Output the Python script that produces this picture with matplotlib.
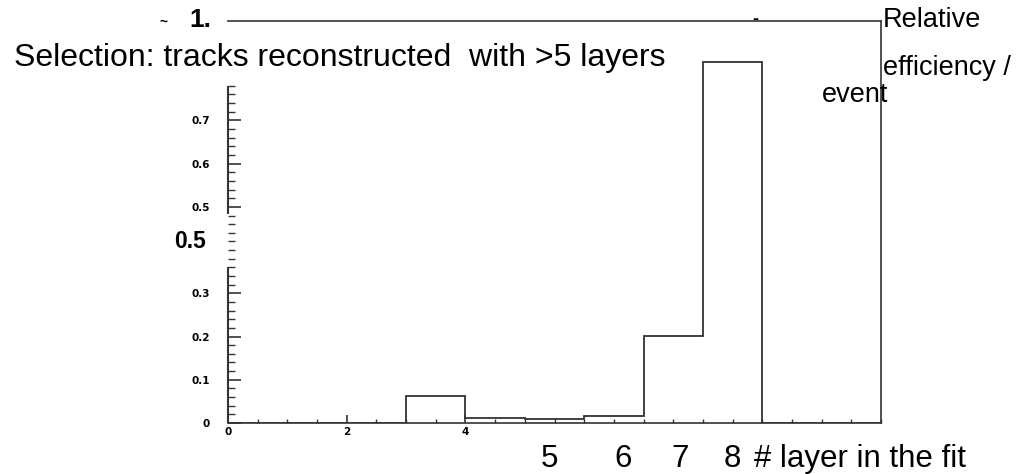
import numpy as np
import matplotlib.pyplot as plt
from matplotlib.ticker import FixedLocator, MultipleLocator

# --- Data ---
BIN_EDGES = [0, 1, 2, 3, 4, 5, 6, 7, 8, 9, 10, 11]
EFFICIENCY = [0, 0, 0, 0.063, 0.012, 0.010, 0.017, 0.202, 0.836, 0, 0]
Y_TICKS = [0, 0.1, 0.2, 0.3, 0.5, 0.6, 0.7]
Y_TICK_LABELS = ['0', '0.1', '0.2', '0.3', '0.5', '0.6', '0.7']
X_TICKS = [0, 2, 4]
X_TICK_LABELS = ['0', '2', '4']
LAYER_LABELS = ['5', '6', '7', '8']

LINE_COLOR = '#333333'
FONT = ['Liberation Sans', 'DejaVu Sans']
TICK_FONT = dict(family='DejaVu Sans', size=7.5, weight='bold')

plt.rcParams['font.family'] = FONT

W, H = 1018, 474
fig = plt.figure(figsize=(W / 100, H / 100), dpi=100)
ax = fig.add_axes([228 / W, 1 - 423 / H, (881 - 228) / W, (423 - 21) / H])


def px(x, y):
    """pixel position -> figure fraction"""
    return x / W, 1 - y / H


# Histogram outline
ax.stairs(EFFICIENCY, BIN_EDGES, color=LINE_COLOR, linewidth=1.3)

ax.set_xlim(0, 11)
ax.set_ylim(0, 0.93)

# Frame: left axis line is broken where the labels overlap it
ax.spines['left'].set_visible(False)
for s in ['top', 'right', 'bottom']:
    ax.spines[s].set_color(LINE_COLOR)
    ax.spines[s].set_linewidth(1.2)
LEFT_SEGMENTS = [(0.0, 0.362), (0.484, 0.78)]
for y0, y1 in LEFT_SEGMENTS:
    ax.plot([0, 0], [y0, y1], color=LINE_COLOR, linewidth=1.5, clip_on=False,
            solid_capstyle='butt')

# Ticks pointing into the frame
ax.xaxis.set_major_locator(FixedLocator(X_TICKS))
ax.set_xticklabels(X_TICK_LABELS, fontdict=TICK_FONT)
ax.xaxis.set_minor_locator(MultipleLocator(0.5))
ax.yaxis.set_major_locator(FixedLocator(Y_TICKS))
ax.set_yticklabels(Y_TICK_LABELS, fontdict=TICK_FONT)
ax.yaxis.set_minor_locator(FixedLocator(np.arange(0, 0.79, 0.02)))
ax.tick_params(axis='both', which='both', direction='in', color=LINE_COLOR)
ax.tick_params(axis='y', which='major', length=9, width=1.2, pad=13)
ax.tick_params(axis='y', which='minor', length=5, width=1.0)
ax.tick_params(axis='x', which='major', length=5.5, width=1.2, pad=3)
ax.tick_params(axis='x', which='minor', length=3, width=1.0)
ax.tick_params(top=False, right=False)

# Overlaid labels
fig.text(*px(14, 66), 'Selection: tracks reconstructed  with >5 layers',
         fontsize=23, ha='left', va='baseline')
fig.text(*px(189, 27), '1.', fontsize=19, fontweight='bold', ha='left', va='baseline')
fig.text(*px(163, 22), '~', fontsize=10, fontweight='bold', ha='center', va='center')
fig.text(*px(755, 20), '-', fontsize=13, fontweight='bold', ha='center', va='center')
fig.text(*px(174, 248), '0.5', fontsize=16.5, fontweight='bold', ha='left', va='baseline')

fig.text(*px(883, 27), 'Relative', fontsize=19.5, ha='left', va='baseline')
fig.text(*px(883, 75), 'efficiency /', fontsize=19.5, ha='left', va='baseline')
fig.text(*px(822, 102), 'event', fontsize=19.5, ha='left', va='baseline')

LAYER_X = [549, 623, 680, 732]
for xp, lab in zip(LAYER_X, LAYER_LABELS):
    fig.text(*px(xp, 467), lab, fontsize=22.5, ha='center', va='baseline')
fig.text(*px(754, 467), '# layer in the fit', fontsize=22.5, ha='left', va='baseline')

fig.savefig('out.png', dpi=100)
